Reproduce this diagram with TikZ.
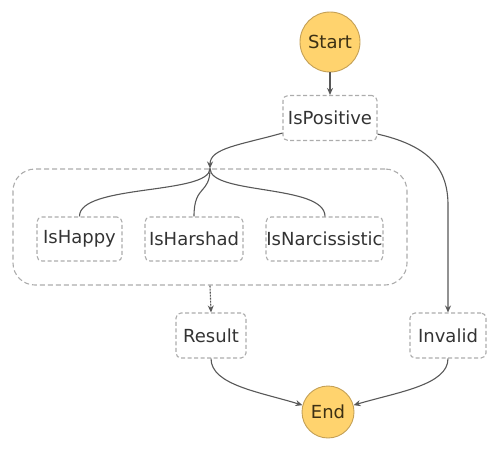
\documentclass[tikz,border=0pt]{standalone}
\usepackage{fontspec}
\setmainfont{DejaVu Sans}
\usetikzlibrary{arrows.meta}
\definecolor{circfill}{RGB}{255,211,110}
\definecolor{circdraw}{RGB}{196,160,86}
\definecolor{boxdraw}{RGB}{172,172,172}
\definecolor{edgecol}{RGB}{88,88,88}
\definecolor{txtcol}{RGB}{51,51,51}
\tikzset{
  state/.style={draw=boxdraw, line width=1.1pt, dash pattern=on 4pt off 2.5pt, rounded corners=5pt,
    minimum height=45pt, inner sep=0pt, text=txtcol, font=\fontsize{18}{21}\selectfont},
  term/.style={circle, fill=circfill, draw=circdraw, line width=0.9pt, inner sep=0pt,
    text={rgb,255:red,60;green,48;blue,20}, font=\fontsize{18}{21}\selectfont},
  container/.style={draw=boxdraw, line width=1.1pt, dash pattern=on 5pt off 3pt, rounded corners=22pt, inner sep=0pt},
  edge/.style={draw=edgecol, line width=1.1pt},
  arr/.style={edge, -{Stealth[length=7pt,width=6pt]}}
}
\begin{document}
\begin{tikzpicture}[x=1pt,y=-1pt]
\useasboundingbox (0,0) rectangle (500,451);
\node[container, minimum width=394pt, minimum height=116pt] (par) at (210,227) {};
\node[term, minimum size=60pt] (start) at (330,42) {Start};
\node[state, minimum width=94pt] (ispos) at (330,118) {IsPositive};
\node[state, minimum width=85pt, minimum height=44pt] (happy) at (79.5,239) {IsHappy};
\node[state, minimum width=98pt, minimum height=44pt] (harshad) at (194,239) {IsHarshad};
\node[state, minimum width=117pt, minimum height=44pt] (narc) at (324.5,239) {IsNarcissistic};
\node[state, minimum width=70pt] (result) at (211,335.5) {Result};
\node[state, minimum width=76pt] (invalid) at (448,335.5) {Invalid};
\node[term, minimum size=52pt] (end) at (328,412) {End};

\draw[arr] (start) -- (ispos);
\draw[arr] ([yshift=8pt]ispos.south west) .. controls (240,145) and (210,148) .. (par.north);
\draw[arr] ([yshift=7pt]ispos.south east) .. controls (425,145) and (448,165) .. (448,205) -- (invalid.north);
\draw[edge] (par.north) .. controls (210,195) and (79,184) .. (happy.north);
\draw[edge] (par.north) .. controls (210,195) and (194,184) .. (harshad.north);
\draw[edge] (par.north) .. controls (210,195) and (325,184) .. (narc.north -| 325,0);
\draw[arr, dash pattern=on 2pt off 1pt] (par.south) -- (result.north);
\draw[arr] (result.south) .. controls (211,385) and (260,392) .. (end.165);
\draw[arr] (invalid.south) .. controls (448,385) and (398,392) .. (end.15);
\end{tikzpicture}
\end{document}
